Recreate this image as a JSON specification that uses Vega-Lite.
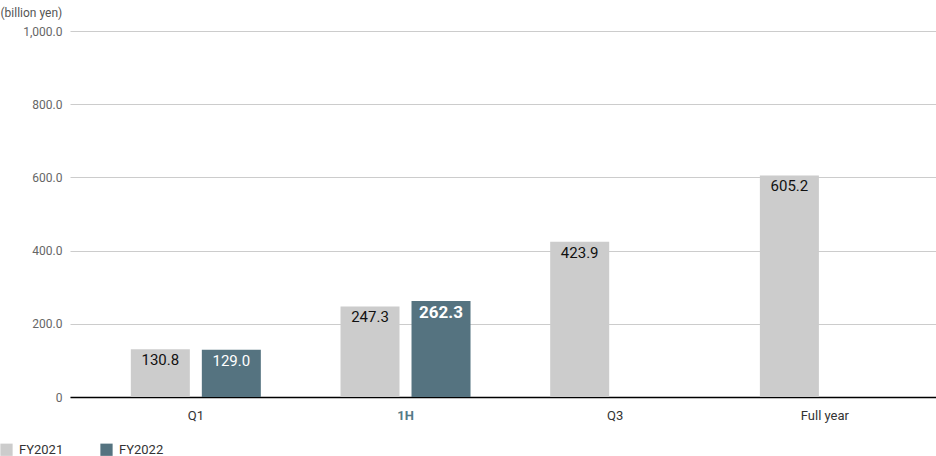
{
  "$schema": "https://vega.github.io/schema/vega-lite/v6.json",
  "width": 866,
  "height": 366,
  "autosize": {"type": "none"},
  "padding": {"left": 70, "top": 31, "right": 0, "bottom": 59},
  "data": {
    "values": [
      {"period": "Q1", "fy": "FY2021", "value": 130.8},
      {"period": "Q1", "fy": "FY2022", "value": 129.0},
      {"period": "1H", "fy": "FY2021", "value": 247.3},
      {"period": "1H", "fy": "FY2022", "value": 262.3},
      {"period": "Q3", "fy": "FY2021", "value": 423.9},
      {"period": "Full year", "fy": "FY2021", "value": 605.2}
    ]
  },
  "encoding": {
    "x": {
      "field": "period",
      "type": "nominal",
      "sort": ["Q1", "1H", "Q3", "Full year"],
      "scale": {"paddingInner": 0, "paddingOuter": 0.065, "align": 0.77},
      "axis": {
        "title": null,
        "labelAngle": 0,
        "ticks": false,
        "domainColor": "#000000",
        "domainWidth": 1.5,
        "labelPadding": 12,
        "labelFontSize": 13,
        "labelColor": {"condition": {"test": "datum.label == '1H'", "value": "#557a88"}, "value": "#333333"},
        "labelFontWeight": {"condition": {"test": "datum.label == '1H'", "value": "bold"}, "value": "normal"}
      }
    },
    "xOffset": {
      "field": "fy",
      "type": "nominal",
      "scale": {"domain": ["FY2021", "FY2022"], "paddingInner": 0.169, "paddingOuter": 0.561}
    },
    "y": {
      "field": "value",
      "type": "quantitative",
      "scale": {"domain": [0, 1000]},
      "axis": {
        "values": [0, 200, 400, 600, 800, 1000],
        "labelExpr": "datum.value == 0 ? '0' : format(datum.value, ',.1f')",
        "title": "(billion yen)",
        "titleAngle": 0,
        "titleAlign": "left",
        "titleBaseline": "middle",
        "titleX": -70,
        "titleY": -19,
        "titleFontSize": 12,
        "titleFontWeight": "normal",
        "titleColor": "#555555",
        "domain": false,
        "ticks": false,
        "labelPadding": 8,
        "labelFontSize": 12,
        "labelColor": "#666666",
        "gridColor": "#cccccc"
      }
    }
  },
  "layer": [
    {
      "mark": {"type": "bar"},
      "encoding": {
        "color": {
          "field": "fy",
          "type": "nominal",
          "scale": {"domain": ["FY2021", "FY2022"], "range": ["#cccccc", "#557380"]},
          "legend": {
            "title": null,
            "orient": "none",
            "direction": "horizontal",
            "legendX": -70,
            "legendY": 412,
            "symbolType": "square",
            "symbolSize": 150,
            "symbolStrokeWidth": 0,
            "labelFontSize": 13,
            "labelColor": "#333333",
            "columnPadding": 36,
            "labelOffset": 6
          }
        }
      }
    },
    {
      "transform": [{"filter": "!(datum.period == '1H' && datum.fy == 'FY2022')"}],
      "mark": {"type": "text", "baseline": "top", "dy": 4, "fontSize": 15},
      "encoding": {
        "text": {"field": "value", "type": "quantitative", "format": ".1f"},
        "color": {"condition": {"test": "datum.fy == 'FY2022'", "value": "#ffffff"}, "value": "#111111"}
      }
    },
    {
      "transform": [{"filter": "datum.period == '1H' && datum.fy == 'FY2022'"}],
      "mark": {"type": "text", "baseline": "top", "dy": 4, "fontSize": 17, "fontWeight": "bold", "color": "#ffffff"},
      "encoding": {
        "text": {"field": "value", "type": "quantitative", "format": ".1f"}
      }
    }
  ],
  "config": {
    "font": "Roboto",
    "view": {"stroke": null},
    "text": {"font": "Roboto"}
  }
}
